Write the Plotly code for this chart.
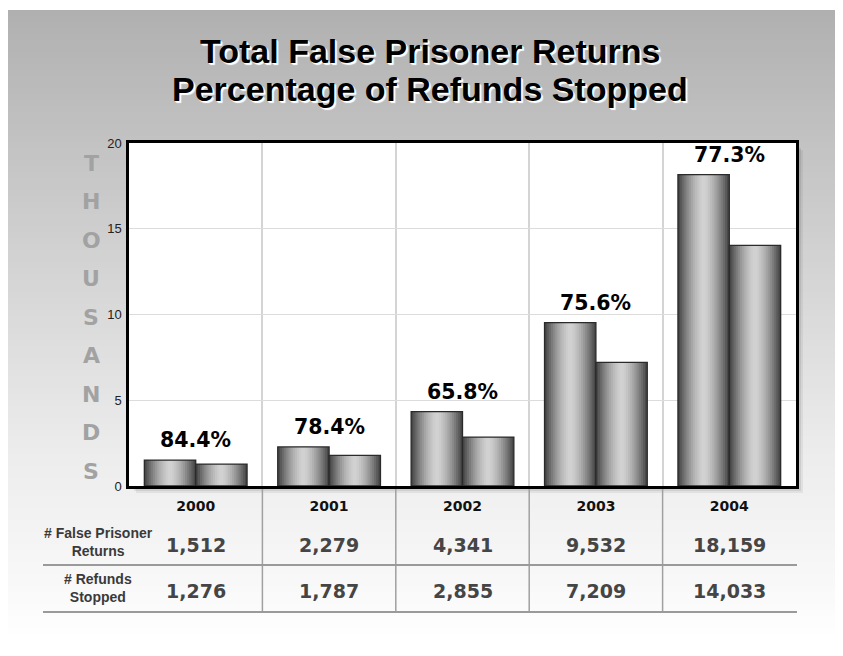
import plotly.graph_objects as go

# ---------------- data ----------------
years = ["2000", "2001", "2002", "2003", "2004"]
false_returns = [1512, 2279, 4341, 9532, 18159]
refunds_stopped = [1276, 1787, 2855, 7209, 14033]
pct_stopped = ["84.4%", "78.4%", "65.8%", "75.6%", "77.3%"]
row_labels = ["# False Prisoner<br>Returns", "# Refunds<br>Stopped"]
title_lines = ["Total False Prisoner Returns", "Percentage of Refunds Stopped"]
y_ticks = [0, 5, 10, 15, 20]
letters = list("THOUSANDS")

# page body has an 8px default margin -> figure is 8px smaller, coords shifted
OFF = 8
W, H = 843 - OFF, 656 - OFF
L, R, T, B = 129, 796, 143, 486  # plot area in reference pixels


def xp(px):
    return (px - L) / (R - L)


def yp(py):
    return (B - py) / (B - T)


fig = go.Figure()

# ---------------- cylindrical bars (layered) ----------------
BW = 0.385
N = 12
series = [(false_returns, -BW), (refunds_stopped, 0.0)]
idx = list(range(len(years)))
for vals, off in series:
    yv = [v / 1000 for v in vals]
    for k in range(N):
        f = 1 - k / N
        lum = int(212 - 140 * f ** 1.6)
        col = f"rgb({lum},{lum},{lum})"
        w = BW * f
        fig.add_trace(go.Bar(
            x=idx, y=yv, width=w, offset=off + (BW - w) / 2,
            marker=dict(color=col, line=dict(width=0)),
            showlegend=False, hoverinfo="skip"))
    fig.add_trace(go.Bar(
        x=idx, y=yv, width=BW, offset=off,
        marker=dict(color="rgba(0,0,0,0)", line=dict(color="#2a2a2a", width=1.3)),
        showlegend=False, hoverinfo="skip"))

shapes = []
# ---------------- background gradient ----------------
stops = [(10, 176), (140, 194), (300, 216), (450, 236), (580, 248), (640, 255)]


def lum_at(py):
    for (a, la), (b, lb) in zip(stops, stops[1:]):
        if a <= py <= b:
            return la + (lb - la) * (py - a) / (b - a)
    return 255


step = 6
for py in range(10, 646, step):
    lv = int(round(lum_at(py + step / 2)))
    shapes.append(dict(type="rect", xref="paper", yref="paper", layer="below",
                       x0=xp(8), x1=xp(838), y0=yp(py + step + 0.5), y1=yp(py),
                       fillcolor=f"rgb({lv},{lv},{lv})", line=dict(width=0)))
# plot shadow
for d, a in [(7, 0.06), (5, 0.08), (3, 0.12)]:
    shapes.append(dict(type="rect", xref="paper", yref="paper", layer="below",
                       x0=xp(L + d), x1=xp(R + d), y0=yp(B + d), y1=yp(T + d),
                       fillcolor=f"rgba(0,0,0,{a})", line=dict(width=0)))
# white plot area
shapes.append(dict(type="rect", xref="paper", yref="paper", layer="below",
                   x0=0, x1=1, y0=0, y1=1, fillcolor="white", line=dict(width=0)))

# ---------------- table lines ----------------
for i in range(len(years) - 1):
    shapes.append(dict(type="line", xref="x", yref="paper", x0=i + 0.5, x1=i + 0.5,
                       y0=yp(489), y1=yp(612), line=dict(color="#a0a0a0", width=1.5)))
for py in (565, 612):
    shapes.append(dict(type="line", xref="paper", yref="paper", x0=xp(43), x1=xp(797),
                       y0=yp(py), y1=yp(py), line=dict(color="#9a9a9a", width=2.2)))

annotations = []
# title
for j, line in enumerate(title_lines):
    annotations.append(dict(
        text=f"<b>{line}</b>",
        xref="paper", yref="paper", x=xp(430), y=yp(51 + 38 * j), xanchor="center",
        yanchor="middle", showarrow=False,
        font=dict(family="Liberation Sans, Arial", size=34, color="black",
                  shadow="2px 2px 1px white, 1px 1px 0px white")))
# THOUSANDS
for j, ch in enumerate(letters):
    annotations.append(dict(text=f"<b>{ch}</b>", xref="paper", yref="paper",
                            x=xp(91), y=yp(163 + j * 38.5), showarrow=False,
                            xanchor="center", yanchor="middle",
                            font=dict(family="DejaVu Sans, Arial", size=22, color="#a2a2a2")))
# percentage labels
for i, (a, b, p) in enumerate(zip(false_returns, refunds_stopped, pct_stopped)):
    annotations.append(dict(text=f"<b>{p}</b>", xref="x", yref="y", x=i,
                            y=max(a, b) / 1000, yshift=20, showarrow=False,
                            xanchor="center", yanchor="middle",
                            font=dict(family="DejaVu Sans, Arial", size=20.5, color="black")))
# table values
for row, vals in enumerate([false_returns, refunds_stopped]):
    ypx = 545 if row == 0 else 591
    for i, v in enumerate(vals):
        annotations.append(dict(text=f"<b>{v:,}</b>", xref="x", yref="paper", x=i,
                                y=yp(ypx), showarrow=False, xanchor="center", yanchor="middle",
                                font=dict(family="DejaVu Sans, Arial", size=19, color="#454545")))
    annotations.append(dict(text=f"<b>{row_labels[row]}</b>", xref="paper", yref="paper",
                            x=xp(98), y=yp(ypx - 3), showarrow=False, xanchor="center",
                            yanchor="middle",
                            font=dict(family="Liberation Sans Narrow, Liberation Sans, Arial",
                                      size=14, color="#3a3a3a")))

fig.update_layout(
    width=W, height=H,
    margin=dict(l=L - OFF, r=843 - R, t=T - OFF, b=656 - B),
    paper_bgcolor="white", plot_bgcolor="white",
    barmode="overlay", showlegend=False,
    shapes=shapes, annotations=annotations,
    xaxis=dict(range=[-0.5, len(years) - 0.5],
               tickvals=idx, ticktext=[f"<b>{y}</b>" for y in years],
               showgrid=False,
               minor=dict(tick0=0.5, dtick=1, showgrid=True, gridcolor="#d4d4d4",
                          gridwidth=1.5, ticks=""),
               tickfont=dict(family="DejaVu Sans, Arial", size=14, color="#111"),
               ticks="", ticklabelstandoff=5,
               showline=True, mirror=True, linecolor="black", linewidth=2.5, zeroline=False),
    yaxis=dict(range=[0, 20], tickvals=y_ticks, showgrid=True, gridcolor="#dcdcdc",
               gridwidth=1.2, tickfont=dict(family="Liberation Sans, Arial", size=13, color="#222"),
               ticks="", ticklabelstandoff=2,
               showline=True, mirror=True, linecolor="black", linewidth=2.5, zeroline=False),
)

fig.write_html("out.html")
